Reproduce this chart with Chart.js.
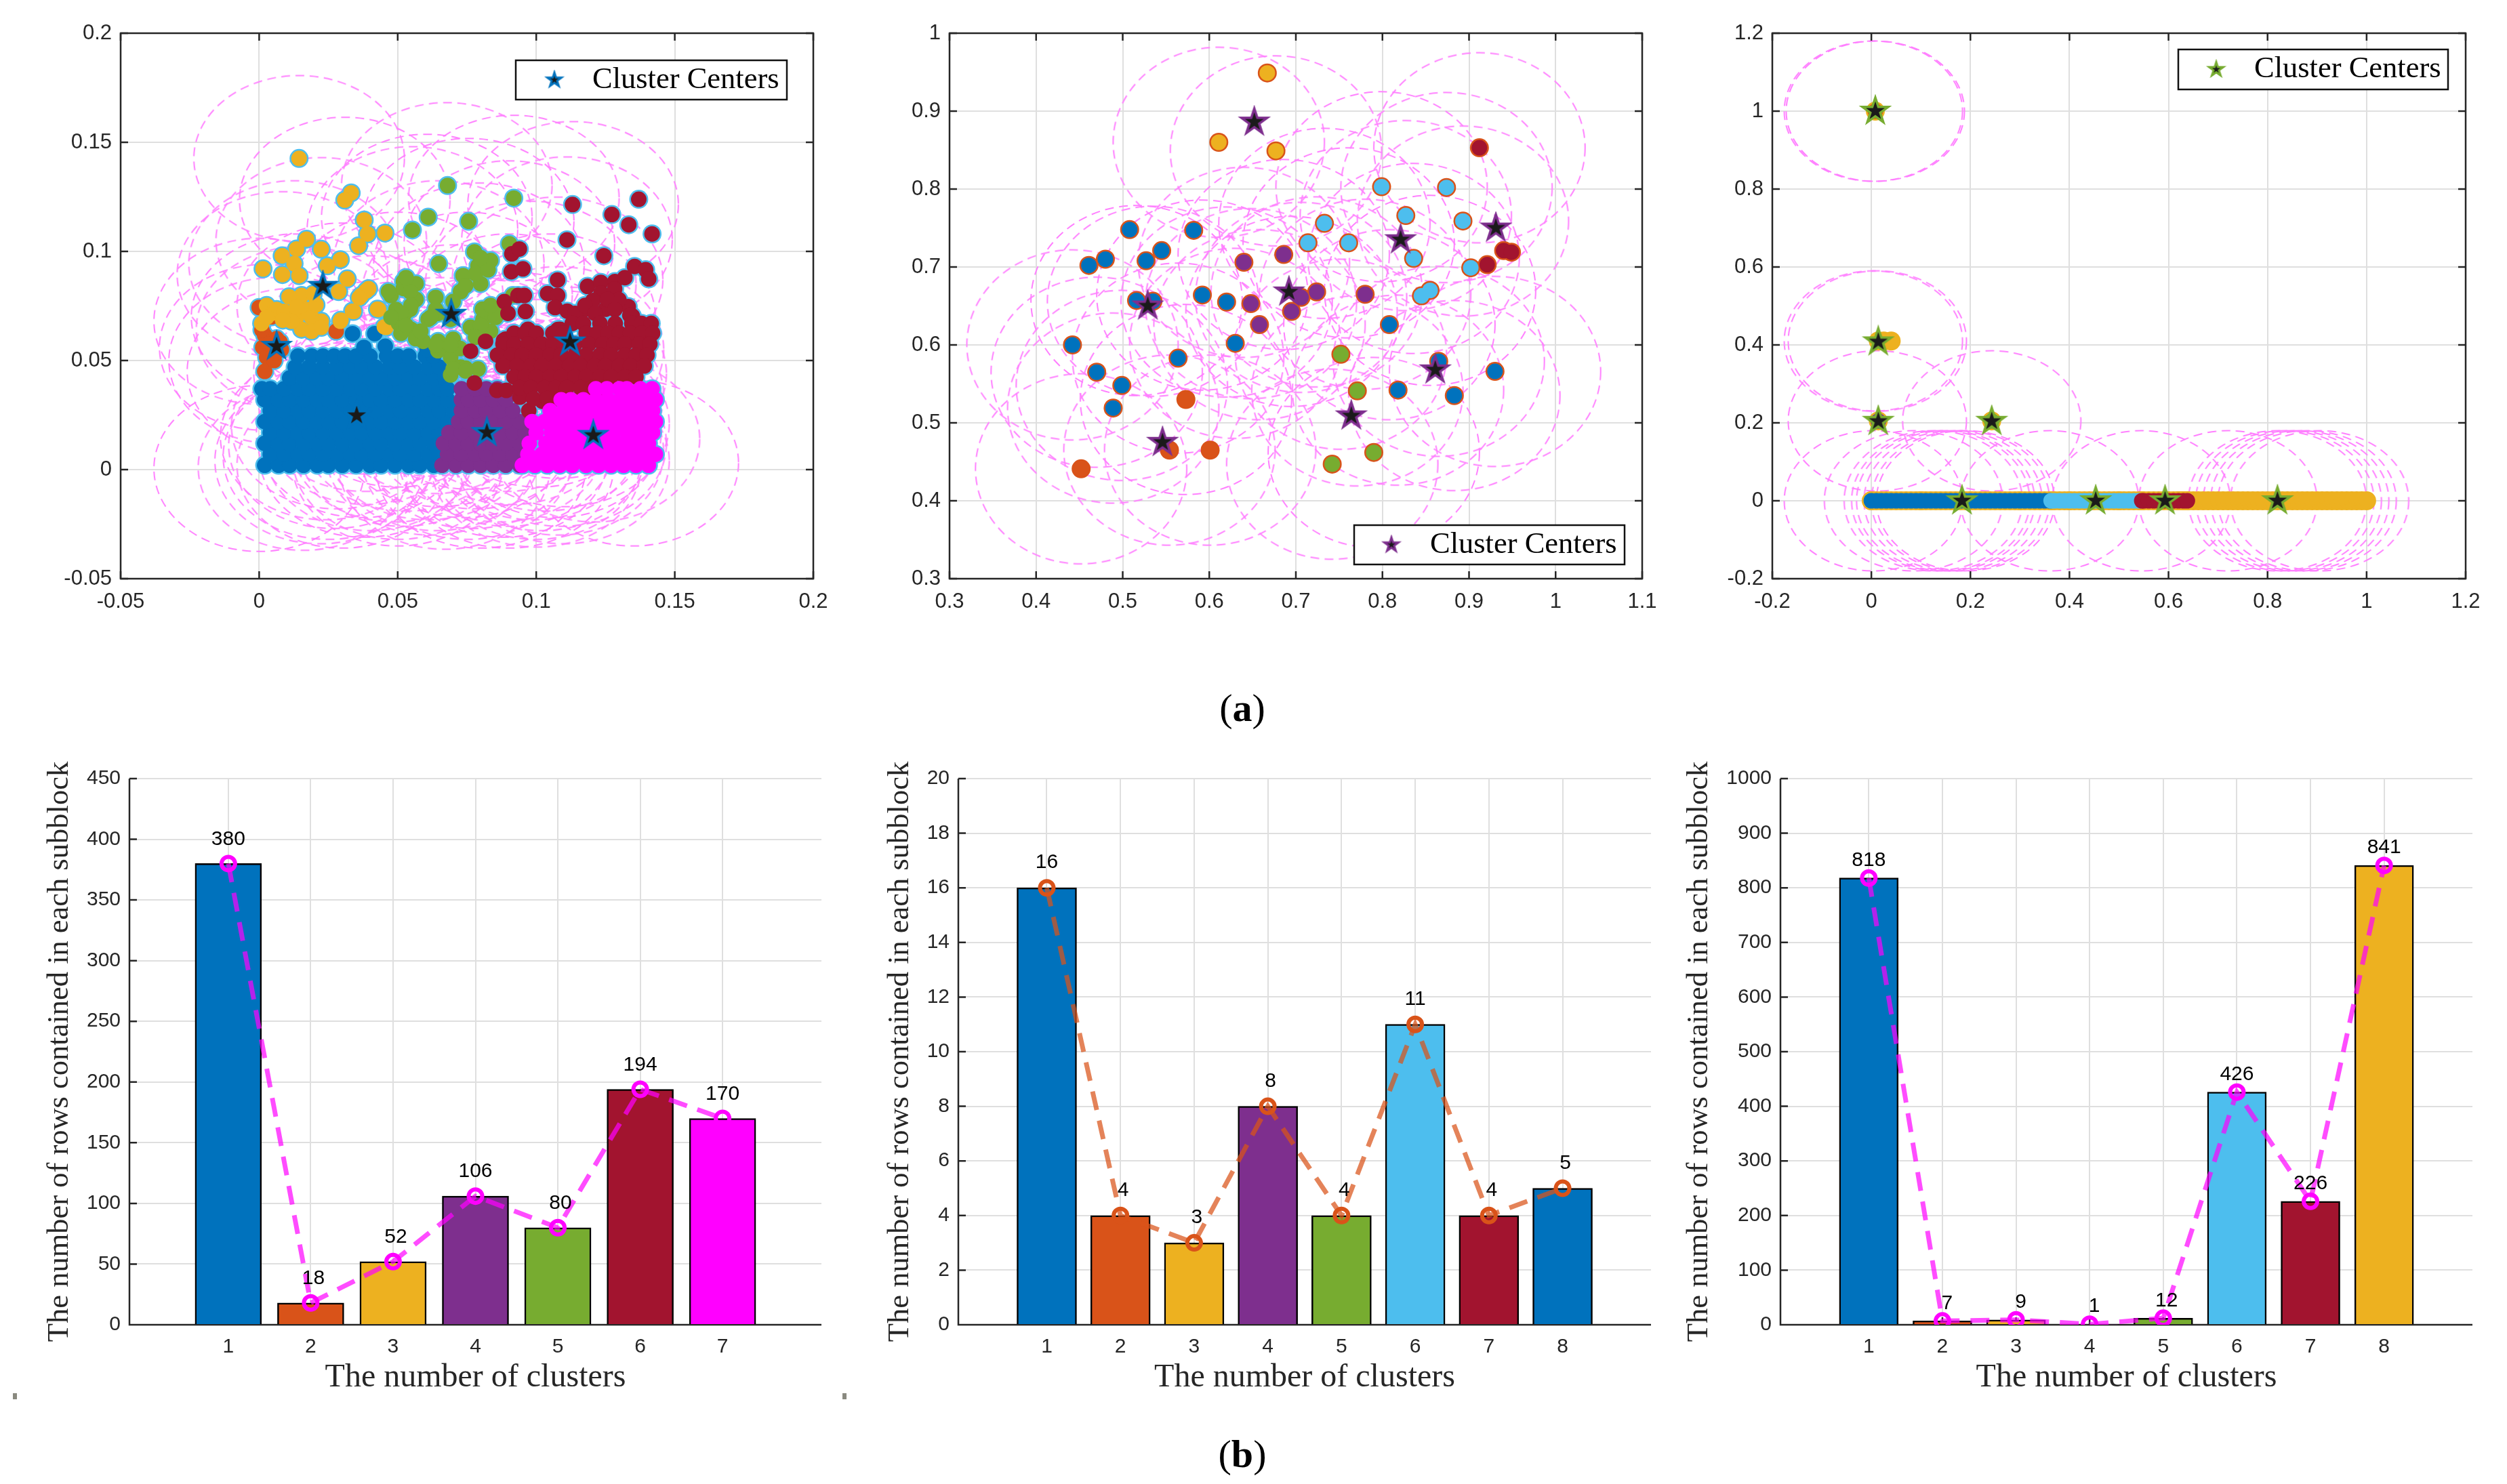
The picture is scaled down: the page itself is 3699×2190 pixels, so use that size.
<!DOCTYPE html>
<html><head><meta charset="utf-8">
<style>
html,body{margin:0;padding:0;background:#fff;width:3699px;height:2190px;overflow:hidden}
canvas{position:absolute}
.cap{position:absolute;font-family:"Liberation Serif",serif;font-size:58px;color:#000;transform:translate(-50%,-50%);line-height:1}
.mk{position:absolute;width:6px;height:9px;background:#8a8a80}
</style>
<script src="https://cdn.jsdelivr.net/npm/chart.js@4/dist/chart.umd.min.js"></script>
</head><body>
<div class="cap" style="left:1833px;top:1045px">(<b>a</b>)</div>
<div class="cap" style="left:1833px;top:2146px">(<b>b</b>)</div>
<div class="mk" style="left:19px;top:2056px"></div><div class="mk" style="left:1243px;top:2056px"></div>
<script>
const BLUE='#0072BD',ORANGE='#D95319',YELLOW='#EDB120',PURPLE='#7E2F8E',GREEN='#77AC30',SKY='#4DBEEE',RED='#A2142F',MAGENTA='#FF00FF';

/* ---------- top-left scatter ---------- */
const a1xTicks=[-0.05,0,0.05,0.1,0.15,0.2];
const a1yTicks=[-0.05,0,0.05,0.1,0.15,0.2];
const a1BlueRowY=[.002,.007,.012,.017,.022,.027,.032,.037,.042,.047,.052];
const a1BlueRowX=[
[.002,.007,.011,.016,.021,.025,.030,.035,.040,.044,.049,.054,.058,.063],
[.004,.009,.014,.018,.023,.028,.033,.037,.042,.047,.051,.056,.061,.065],
[.002,.007,.011,.016,.021,.025,.030,.035,.040,.044,.049,.054,.058,.063,.067],
[.004,.009,.014,.018,.023,.028,.033,.037,.042,.047,.051,.056,.061,.065,.069],
[.002,.007,.011,.016,.021,.025,.030,.035,.040,.044,.049,.054,.058,.063,.068],
[.004,.009,.014,.018,.023,.028,.033,.037,.042,.047,.051,.056,.061,.065,.070],
[.002,.007,.011,.016,.021,.025,.030,.035,.040,.044,.049,.054,.058,.063,.068],
[.001,.004,.009,.014,.018,.023,.028,.033,.037,.042,.047,.051,.056,.061,.065,.068],
[.011,.016,.021,.025,.030,.035,.040,.044,.049,.054,.058,.063,.067],
[.013,.018,.023,.028,.033,.037,.042,.047,.051,.056,.061,.065],
[.014,.019,.023,.027,.031,.035,.040,.046,.050,.054,.060,.063]];
const a1BlueExtra=[[.0337,.0623],[.0417,.0623],[.0378,.056],[.0455,.0565],[.0606,.055]];
const a1Orange=[[.002,.045],[.0013,.056],[.0063,.060],[.0027,.0515],[.008,.055],[.0054,.05],[.002,.0615],[0,.0743],[.0045,.07],[.0278,.0634],[.001,.064],[.0035,.0575],[.0075,.0585],[.006,.0535]];
const a1Yellow=[[.0144,.1426],[.0332,.1268],[.0309,.1235],[.0379,.1144],[.0391,.108],[.0359,.1026],[.0454,.1084],[.0171,.1056],[.0135,.1011],[.0083,.098],[.0014,.092],[.0224,.101],[.0293,.0962],[.0246,.0934],[.0126,.0944],[.0144,.0889],[.0084,.0894],[.0318,.0874],[.0287,.0816],[.0395,.0829],[.0368,.0798],[.0153,.0798],[.0108,.0792],[.0341,.0725],[.0293,.068],[.0431,.0734],[.0458,.0652],[.0027,.0752],[.0045,.0716],[.0009,.067],[.0063,.0734],[.009,.0725],[.0135,.0698],[.0171,.0734],[.0189,.0698],[.0224,.068],[.0153,.0643],[.0189,.0634],[.0224,.0652],[.0117,.068],[.0027,.0698],[.0452,.0654],[.0427,.0735],[.0386,.0819],[.0361,.0788],[.0337,.0726],[.0295,.0685],[.0135,.0745],[.0205,.0755],[.0195,.0805],[.0085,.0685]];
const a1Green=[[.068,.1302],[.0919,.1244],[.061,.1157],[.0553,.1098],[.0756,.1138],[.0903,.1035],[.0648,.0944],[.0777,.0998],[.0835,.0958],[.079,.0934],[.0736,.0889],[.0799,.0852],[.0727,.0816],[.0521,.0862],[.0566,.0852],[.0476,.0798],[.0494,.0734],[.0566,.078],[.0637,.0789],[.0646,.0716],[.061,.0689],[.0691,.0689],[.0503,.067],[.0548,.0643],[.0512,.0625],[.0592,.0588],[.0646,.0588],[.07,.0597],[.0673,.0552],[.0691,.0515],[.0727,.047],[.0691,.0434],[.079,.0461],[.0763,.0652],[.0808,.0689],[.0853,.0716],[.088,.0752],[.0916,.0798],[.0835,.0634],[.052,.083],[.0545,.0815],[.0745,.0465],[.0725,.0555],[.0806,.0735],[.0785,.0615],[.0545,.0735],[.0525,.0715],[.0565,.06],[.0645,.0545],
[.0467,.0816],[.053,.088],[.0548,.0752],[.0512,.0716],[.0476,.0698],[.053,.0661],[.0583,.0634],[.0637,.057],[.0691,.057],[.07,.0461],[.0745,.0452],[.0799,.0661],[.0781,.0607],[.0853,.0698],[.0835,.0752],[.07,.077],[.0745,.0843],[.0781,.0898],[.0637,.0734],[.0619,.0698],[.0826,.0916],[.0799,.0971]];
const a1Purple=[[.066,.002],[.071,.002],[.0755,.002],[.08,.002],[.0845,.002],[.089,.002],[.094,.002],[.068,.007],[.073,.007],[.078,.007],[.082,.007],[.087,.007],[.0915,.007],[.096,.007],[.0665,.012],[.071,.012],[.0755,.012],[.08,.012],[.0845,.012],[.089,.012],[.094,.012],[.0685,.017],[.073,.017],[.078,.017],[.082,.017],[.087,.017],[.0915,.017],[.096,.017],[.072,.022],[.0755,.022],[.08,.022],[.0845,.022],[.089,.022],[.094,.022],[.073,.027],[.078,.027],[.082,.027],[.087,.027],[.0915,.027],[.073,.032],[.0755,.032],[.08,.032],[.0845,.032],[.089,.032],[.073,.037],[.078,.037],[.082,.037],[.086,.037]];
const a1RedSparse=[[.1131,.1215],[.1273,.1169],[.1334,.1122],[.137,.1239],[.1418,.108],[.1111,.1053],[.1244,.098],[.0912,.0989],[.0939,.1011],[.091,.0907],[.0952,.092],[.1077,.0869],[.1041,.0807],[.1077,.0798],[.1068,.0743],[.1185,.084],[.1233,.0858],[.1284,.0862],[.132,.088],[.1355,.0931],[.1395,.0916],[.1406,.0874],[.0885,.077],[.0934,.0798],[.0957,.0798],[.0898,.0716],[.0961,.0725],[.0763,.0543],[.0817,.0588],[.0777,.0397],[.1112,.0726],[.1176,.0735],[.1234,.0809],[.1283,.0828],[.1332,.0747],[.1347,.0704],[.1298,.0779],[.125,.0735],[.1205,.0775],[.1078,.0642],[.0965,.0633],[.0882,.0592],[.0858,.0363],[.0892,.0363],[.0941,.0332],[.0973,.027],[.1022,.0313],
[.114,.0716],[.1176,.0752],[.1212,.0716],[.1257,.078],[.1284,.0734],[.1338,.0707],[.1365,.067],[.1086,.0643],[.097,.0643],[.0889,.0598]];
const a1RedRowY=[.067,.0625,.0575,.0525,.0475,.0425,.0375,.0325];
const a1RedRowX=[
[.113,.117,.123,.1285,.1345,.138,.1415],
[.092,.096,.1,.106,.11,.118,.122,.126,.13,.134,.138,.142],
[.088,.092,.097,.102,.106,.11,.114,.119,.124,.128,.132,.137,.141],
[.086,.091,.095,.1,.105,.109,.114,.118,.123,.127,.132,.136,.14],
[.088,.093,.098,.102,.107,.112,.116,.121,.125,.13,.134,.139],
[.092,.096,.1,.105,.109,.114,.118,.123,.127,.132,.136],
[.094,.098,.103,.107,.111,.116,.12,.124],
[.099,.104,.108,.112]];
const a1MagentaRowY=[.002,.007,.012,.017,.022,.027,.032,.037];
const a1MagentaRowX=[
[.095,.0995,.104,.1085,.113,.118,.1225,.127,.1315,.136,.1405],
[.097,.102,.1065,.111,.1155,.12,.125,.1295,.134,.1385,.143],
[.0975,.1035,.108,.113,.118,.1225,.127,.1315,.136,.1405],
[.1,.1055,.11,.1145,.119,.1235,.128,.133,.1375,.142],
[.0985,.103,.108,.1125,.117,.1215,.126,.1305,.135,.1395,.143],
[.105,.11,.1145,.119,.1235,.128,.133,.1375,.142],
[.109,.1125,.117,.1215,.126,.1305,.135,.1395,.143],
[.1215,.1255,.13,.1327,.1376,.1418]];
const a1Centers=[[.023,.084],[.0063,.0565],[.0352,.0248],[.0693,.0712],[.0822,.017],[.1122,.0585],[.1206,.0157]];
const a1Rings=[[.0144,.1426],[.0309,.1235],[.0224,.105],[.0677,.1302],[.0605,.1157],[.0553,.11],[.0756,.1138],[.0919,.1244],[.1133,.1215],[.1111,.1053],[.0903,.1035],[.0793,.0934],[.1077,.0869],[.0648,.0944],[.0084,.0894],[.0126,.0944],[.0135,.07],[.0153,.0643],[0,.068],[.002,.056],[.0054,.05],[.012,.045],[0,.0005],[.016,.001],[.022,.004],[.03,.002],[.05,.003],[.067,.0015],[.08,.002],[.09,.002],[.1,.0025],[.11,.004],[.121,.014],[.135,.003],
[.025,.006],[.038,.007],[.05,.006],[.062,.008],[.075,.006],[.088,.007],[.1,.006],[.108,.008],
[.027,.011],[.04,.01],[.052,.012],[.064,.01],[.077,.011],[.09,.012],[.102,.01],[.109,.012],
[.024,.015],[.037,.016],[.049,.014],[.061,.015],[.074,.016],[.087,.014],[.099,.015],[.107,.016],
[.028,.02],[.039,.022],[.053,.019],[.065,.021],[.078,.02],[.091,.022],[.103,.019],[.11,.021],
[.038,.028],[.05,.03],[.063,.027],[.076,.029],[.089,.028],[.101,.03],[.108,.034],
[.037,.036],[.048,.038],[.062,.035],[.075,.037],[.088,.036],[.1,.04],[.109,.044],
[.036,.045],[.05,.048],[.065,.05],[.08,.05],[.095,.052],[.108,.055],[.04,.06],[.07,.065],[.09,.07],[.105,.07],[.03,.075],[.05,.08],[.075,.08],[.098,.085]];

/* ---------- top-middle scatter ---------- */
const a2xTicks=[0.3,0.4,0.5,0.6,0.7,0.8,0.9,1,1.1];
const a2yTicks=[0.3,0.4,0.5,0.6,0.7,0.8,0.9,1];
const a2Blue=[[.508,.748],[.582,.747],[.545,.721],[.527,.708],[.48,.71],[.461,.702],[.516,.657],[.535,.656],[.592,.664],[.62,.655],[.63,.602],[.442,.6],[.564,.583],[.47,.565],[.499,.548],[.489,.519]];
const a2Orange=[[.573,.53],[.554,.465],[.601,.465],[.452,.441]];
const a2Yellow=[[.667,.949],[.611,.86],[.677,.849]];
const a2Purple=[[.64,.706],[.686,.716],[.706,.661],[.724,.668],[.78,.665],[.648,.653],[.695,.643],[.658,.626]];
const a2Green=[[.752,.588],[.771,.541],[.79,.462],[.742,.447]];
const a2Sky=[[.799,.803],[.874,.802],[.827,.766],[.893,.759],[.733,.756],[.714,.731],[.761,.731],[.836,.711],[.902,.699],[.855,.67],[.845,.663]];
const a2Red=[[.912,.853],[.921,.703],[.94,.721],[.949,.719]];
const a2Blue2=[[.808,.626],[.865,.579],[.818,.542],[.883,.535],[.93,.566]];
const a2Centers=[[.652,.886],[.931,.75],[.821,.735],[.692,.668],[.529,.65],[.861,.568],[.764,.509],[.546,.475]];
const a2Rings=[[.611,.86],[.677,.849],[.912,.853],[.799,.803],[.874,.802],[.827,.766],[.893,.759],[.836,.711],[.761,.731],[.733,.756],[.855,.67],[.686,.716],[.64,.706],[.706,.661],[.724,.668],[.648,.653],[.695,.643],[.658,.626],[.78,.665],[.516,.657],[.535,.656],[.592,.664],[.62,.655],[.63,.602],[.442,.6],[.564,.583],[.47,.565],[.499,.548],[.489,.519],[.573,.53],[.554,.465],[.601,.465],[.452,.441],[.752,.588],[.771,.541],[.79,.462],[.742,.447],[.808,.626],[.865,.579],[.818,.542],[.883,.535],[.93,.566]];

/* ---------- top-right scatter ---------- */
const a3xTicks=[-0.2,0,0.2,0.4,0.6,0.8,1,1.2];
const a3yTicks=[-0.2,0,0.2,0.4,0.6,0.8,1,1.2];
const a3BlueX=[0,.01,.02,.03,.04,.05,.06,.07,.08,.09,.1,.11,.12,.13,.14,.15,.16,.17,.18,.19,.2,.21,.22,.23,.24,.25,.26,.27,.28,.29,.3,.31,.32,.33,.34,.35,.36];
const a3SkyX=[.363,.37,.38,.39,.4,.41,.42,.43,.44,.45,.46,.47,.48,.49,.5,.51,.52,.53,.54];
const a3RedX=[.546,.55,.56,.57,.58,.59,.6,.61,.62,.63,.638];
const a3YellowX=[0,.1,.2,.3,.4,.5,.62,.63,.64,.65,.66,.67,.68,.69,.7,.71,.72,.73,.74,.75,.76,.77,.78,.79,.8,.81,.82,.83,.84,.85,.86,.87,.88,.89,.9,.91,.92,.93,.94,.95,.96,.97,.98,.99,1];
const a3Orange=[[.008,1]];
const a3YellowTop=[[.014,.41],[.025,.41],[.04,.41]];
const a3Purple=[[.014,.205]];
const a3Green=[[.243,.205]];
const a3Centers=[[.008,1],[.014,.408],[.014,.204],[.243,.204],[.183,0],[.453,0],[.593,0],[.82,0]];
const a3Rings=[[.004,1],[.008,1],[.004,.41],[.012,.41],[.012,.205],[.243,.205],[.004,0],[.085,0],[.125,0],[.14,0],[.15,0],[.165,0],[.18,0],[.19,0],[.36,0],[.545,0],[.72,0],[.82,0],[.835,0],[.85,0],[.865,0],[.88,0],[.905,0]];

/* ---------- bottom bar charts ---------- */
const b1Categories=[1,2,3,4,5,6,7];
const b1Values=[380,18,52,106,80,194,170];
const b1Colors=[BLUE,ORANGE,YELLOW,PURPLE,GREEN,RED,MAGENTA];
const b1YTicks=[0,50,100,150,200,250,300,350,400,450];
const b2Categories=[1,2,3,4,5,6,7,8];
const b2Values=[16,4,3,8,4,11,4,5];
const b2Colors=[BLUE,ORANGE,YELLOW,PURPLE,GREEN,SKY,RED,BLUE];
const b2YTicks=[0,2,4,6,8,10,12,14,16,18,20];
const b3Categories=[1,2,3,4,5,6,7,8];
const b3Values=[818,7,9,1,12,426,226,841];
const b3Colors=[BLUE,ORANGE,YELLOW,PURPLE,GREEN,SKY,RED,YELLOW];
const b3YTicks=[0,100,200,300,400,500,600,700,800,900,1000];
const xTitle='The number of clusters';
const yTitle='The number of rows contained in each subblock';

/* ---------- helpers ---------- */
const rows=(ys,xs)=>ys.flatMap((y,i)=>xs[i].map(x=>[x,y]));
const onZero=xs=>xs.map(x=>[x,0]);
const INK='#262626',GRID='#dfdfdf';
const SANS='"Liberation Sans"',SERIF='"Liberation Serif"';
function starCanvas(R,edge,lw){
  const s=Math.ceil(2*R+lw+6),c=document.createElement('canvas');c.width=s;c.height=s;
  const g=c.getContext('2d');g.translate(s/2,s/2);g.beginPath();
  for(let i=0;i<10;i++){const r=i%2?R*0.382:R,t=-Math.PI/2+i*Math.PI/5;g[i?'lineTo':'moveTo'](r*Math.cos(t),r*Math.sin(t));}
  g.closePath();g.fillStyle='#1a1a1a';g.fill();g.strokeStyle=edge;g.lineWidth=lw;g.lineJoin='miter';g.stroke();
  return c;
}
function ringCanvas(rx,ry){
  const c=document.createElement('canvas');c.width=Math.ceil(2*rx+6);c.height=Math.ceil(2*ry+6);
  const g=c.getContext('2d');g.strokeStyle='#ff80ff';g.lineWidth=2;g.setLineDash([13,8]);
  g.beginPath();g.ellipse(c.width/2,c.height/2,rx,ry,0,0,Math.PI*2);g.stroke();return c;
}
const pts=a=>a.map(p=>({x:p[0],y:p[1]}));
const dots=(d,color,r)=>({type:'scatter',data:pts(d),showLine:false,pointRadius:r,pointHoverRadius:r,pointBorderWidth:0,pointBackgroundColor:color,pointBorderColor:color});
const styled=(d,style,r)=>({type:'scatter',data:pts(d),showLine:false,pointRadius:r,pointHoverRadius:r,pointStyle:style,pointBorderWidth:0});
function stack(list){const n=list.length;list.forEach((d,i)=>d.order=n-i);return list;}

const axisPlugin={id:'axisMarks',
  beforeDatasetsDraw(ch,_,o){
    if(o.box)return;
    marks(ch,o,false);
  },
  afterDatasetsDraw(ch,_,o){
    const g=ch.ctx,a=ch.chartArea;
    if(o.box){marks(ch,o,true);
      g.save();g.strokeStyle=INK;g.lineWidth=2.5;g.strokeRect(a.left,a.top,a.right-a.left,a.bottom-a.top);g.restore();}
    if(o.legend){const L=o.legend;g.save();
      g.fillStyle='#fff';g.strokeStyle='#111';g.lineWidth=2.5;
      const x=L.l-o.origin.x,y=L.t-o.origin.y,w=L.r-L.l,h=L.b-L.t;
      g.fillRect(x,y,w,h);g.strokeRect(x,y,w,h);
      g.drawImage(L.star,L.sx-o.origin.x-L.star.width/2,(L.t+L.b)/2-o.origin.y-L.star.height/2);
      g.fillStyle='#000';g.font='44.5px '+SERIF;g.textAlign='left';g.textBaseline='middle';
      g.fillText('Cluster Centers',L.tx-o.origin.x,(L.t+L.b)/2-o.origin.y);g.restore();}
    if(o.values){g.save();g.fillStyle='#000';g.font='30px '+SANS;g.textAlign='center';g.textBaseline='middle';
      o.values.forEach((v,i)=>g.fillText(String(v),ch.scales.x.getPixelForValue(o.cats[i])+o.nudge[i],ch.scales.y.getPixelForValue(v)-o.lift));
      g.restore();}
  }};
function marks(ch,o,box){
  const g=ch.ctx,a=ch.chartArea,T=11;g.save();g.strokeStyle=INK;g.lineWidth=2.5;g.beginPath();
  ch.scales.x.ticks.forEach(t=>{const p=ch.scales.x.getPixelForValue(t.value);g.moveTo(p,a.bottom);g.lineTo(p,a.bottom-T);if(box){g.moveTo(p,a.top);g.lineTo(p,a.top+T);}});
  ch.scales.y.ticks.forEach(t=>{const p=ch.scales.y.getPixelForValue(t.value);g.moveTo(a.left,p);g.lineTo(a.left+T,p);if(box){g.moveTo(a.right,p);g.lineTo(a.right-T,p);}});
  if(!box){g.moveTo(a.left,a.top);g.lineTo(a.left,a.bottom);g.lineTo(a.right,a.bottom);}
  g.stroke();g.restore();
}
function scaleOpt(min,max,ticks,size,pad,extra){
  return Object.assign({type:'linear',min,max,offset:false,
    afterBuildTicks:s=>{s.ticks=ticks.map(value=>({value}));},
    afterFit:s=>{s.paddingLeft=s.paddingRight=s.paddingTop=s.paddingBottom=0;if(s.isHorizontal())s.height=size;else s.width=size;},
    grid:{color:GRID,lineWidth:2,drawTicks:false,offset:false},
    border:{display:false},
    ticks:{padding:pad,color:INK,autoSkip:false,maxRotation:0,font:{family:SANS,size:31},callback:v=>String(v)}},extra||{});
}
function mount(r,w,h,cfg){
  const c=document.createElement('canvas');c.width=w;c.height=h;c.style.left=r.x+'px';c.style.top=r.y+'px';c.style.width=w+'px';c.style.height=h+'px';
  document.body.appendChild(c);return new Chart(c.getContext('2d'),cfg);
}
Chart.defaults.animation=false;

function scatterPanel(p){
  const YW=120,XH=70,ox=p.l-140,oy=p.t-20,W=p.r-p.l+140+40,H=p.b-p.t+20+100;
  const rx=p.ring*(p.r-p.l)/(p.xr[1]-p.xr[0]),ry=p.ring*(p.b-p.t)/(p.yr[1]-p.yr[0]);
  const ds=stack([styled(p.rings,ringCanvas(rx,ry),10),dots(p.all,p.edge,14)]
    .concat(p.layers.map(l=>dots(l[0],l[1],11.5)))
    .concat([styled(p.centers,starCanvas(20,p.starEdge,3.5),10)]));
  p.legend.star=starCanvas(11,p.starEdge,3);
  mount({x:ox,y:oy},W,H,{type:'scatter',data:{datasets:ds},options:{responsive:false,devicePixelRatio:1,animation:false,
    layout:{padding:{left:140-YW,top:20,right:40,bottom:100-XH}},
    scales:{x:scaleOpt(p.xr[0],p.xr[1],p.xt,XH,16),y:scaleOpt(p.yr[0],p.yr[1],p.yt,YW,13)},
    plugins:{legend:{display:false},tooltip:{enabled:false},axisMarks:{box:true,legend:p.legend,origin:{x:ox,y:oy}}}},
    plugins:[axisPlugin]});
}
function barPanel(p){
  const YW=150,XH=110,TOP=60,ox=p.l-170,oy=p.t-TOP,W=p.r-p.l+170+30,H=p.b-p.t+TOP+130,FX=48,FY=44.5;
  const ds=[
   {type:'line',order:1,data:p.cats.map((c,i)=>({x:c,y:p.vals[i]})),borderColor:p.lineColor,borderWidth:7,borderDash:[28,16],tension:0,fill:false,
    pointStyle:'circle',pointRadius:10,pointBorderWidth:6,pointBorderColor:p.markColor,pointBackgroundColor:'rgba(255,255,255,0)'},
   {type:'bar',order:2,data:p.cats.map((c,i)=>({x:c,y:p.vals[i]})),backgroundColor:p.colors,borderColor:'#000',borderWidth:2.5,barThickness:p.bar}];
  const xs=scaleOpt(-0.2,p.xmax,p.cats,XH,15,{title:{display:true,text:xTitle,color:INK,font:{family:SERIF,size:FX},padding:{top:0,bottom:32-FX*0.6}}});
  const ys=scaleOpt(0,p.ymax,p.yt,YW,13,{title:{display:true,text:yTitle,color:INK,font:{family:SERIF,size:FY},padding:{top:YW-p.ytd-FY*0.6,bottom:0}}});
  xs.ticks.font={family:SANS,size:30};ys.ticks.font={family:SANS,size:30};
  mount({x:ox,y:oy},W,H,{data:{datasets:ds},options:{responsive:false,devicePixelRatio:1,animation:false,
    layout:{padding:{left:170-YW,top:TOP,right:30,bottom:130-XH}},
    scales:{x:xs,y:ys},
    plugins:{legend:{display:false},tooltip:{enabled:false},axisMarks:{box:false,values:p.vals,cats:p.cats,nudge:p.nudge,lift:p.lift}}},
    plugins:[axisPlugin]});
}

/* ---------- assemble ---------- */
const a1Blue=rows(a1BlueRowY,a1BlueRowX).concat(a1BlueExtra);
const a1Red=a1RedSparse.concat(rows(a1RedRowY,a1RedRowX));
const a1Magenta=rows(a1MagentaRowY,a1MagentaRowX);
const a1Layers=[[a1Blue,BLUE],[a1Orange,ORANGE],[a1Yellow,YELLOW],[a1Purple,PURPLE],[a1Green,GREEN],[a1Red,RED],[a1Magenta,MAGENTA]];
scatterPanel({l:178,r:1200,t:49,b:854,xr:[-0.05,0.2],yr:[-0.05,0.2],xt:a1xTicks,yt:a1yTicks,ring:0.038,edge:SKY,starEdge:BLUE,
  rings:a1Rings,all:a1Layers.flatMap(l=>l[0]),layers:a1Layers,centers:a1Centers,
  legend:{l:761,r:1161,t:89,b:147,sx:818,tx:874}});

const a2Layers=[[a2Blue,BLUE],[a2Orange,ORANGE],[a2Yellow,YELLOW],[a2Purple,PURPLE],[a2Green,GREEN],[a2Sky,SKY],[a2Red,RED],[a2Blue2,BLUE]];
scatterPanel({l:1401,r:2423,t:49,b:854,xr:[0.3,1.1],yr:[0.3,1],xt:a2xTicks,yt:a2yTicks,ring:0.122,edge:ORANGE,starEdge:PURPLE,
  rings:a2Rings,all:a2Layers.flatMap(l=>l[0]),layers:a2Layers,centers:a2Centers,
  legend:{l:1998,r:2397,t:775,b:833,sx:2053,tx:2110}});

const a3Layers=[[onZero(a3YellowX),YELLOW],[onZero(a3BlueX),BLUE],[a3Orange,ORANGE],[a3YellowTop,YELLOW],[a3Purple,PURPLE],[a3Green,GREEN],[onZero(a3SkyX),SKY],[onZero(a3RedX),RED]];
scatterPanel({l:2615,r:3638,t:49,b:854,xr:[-0.2,1.2],yr:[-0.2,1.2],xt:a3xTicks,yt:a3yTicks,ring:0.18,edge:YELLOW,starEdge:GREEN,
  rings:a3Rings,all:a3Layers.flatMap(l=>l[0]),layers:a3Layers,centers:a3Centers,
  legend:{l:3214,r:3612,t:73,b:132,sx:3270,tx:3326}});

const LINE_M='rgba(255,0,255,0.7)',LINE_O='rgba(217,83,25,0.72)';
barPanel({l:191,r:1212,t:1149,b:1955,xmax:8.2,ymax:450,cats:b1Categories,vals:b1Values,colors:b1Colors,yt:b1YTicks,bar:98,lineColor:LINE_M,markColor:MAGENTA,nudge:[0,4,4,0,4,0,0],lift:36,ytd:103});
barPanel({l:1414,r:2436,t:1149,b:1955,xmax:9.2,ymax:20,cats:b2Categories,vals:b2Values,colors:b2Colors,yt:b2YTicks,bar:88,lineColor:LINE_O,markColor:ORANGE,nudge:[0,4,4,4,4,0,4,4],lift:37,ytd:86});
barPanel({l:2627,r:3648,t:1149,b:1955,xmax:9.2,ymax:1000,cats:b3Categories,vals:b3Values,colors:b3Colors,yt:b3YTicks,bar:87,lineColor:LINE_M,markColor:MAGENTA,nudge:[0,7,7,7,5,0,0,0],lift:26,ytd:120});
</script>
</body></html>
